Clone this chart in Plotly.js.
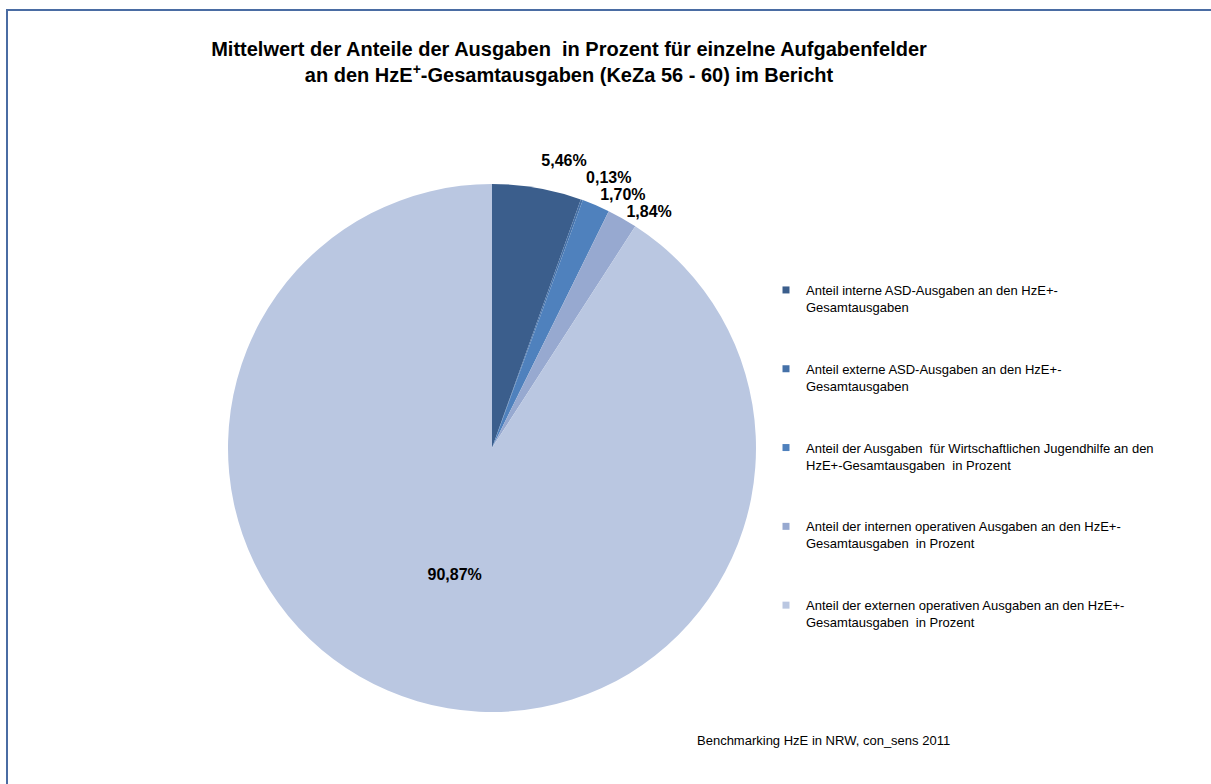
<!DOCTYPE html>
<html>
<head>
<meta charset="utf-8">
<script src="https://cdn.plot.ly/plotly-3.0.1.min.js"></script>
<style>
  html, body { margin: 0; padding: 0; background: #fff; overflow: hidden; }
  #frame { position: absolute; left: 6px; top: 9px; width: 1300px; height: 900px; border: 2px solid #4A6CA3; box-sizing: border-box; }
  #chart { position: absolute; left: 0; top: 0; width: 1211px; height: 784px; }
  #chart path.textline { display: none !important; }
</style>
</head>
<body>
<div id="frame"></div>
<div id="chart"></div>
<script>
const categories = [
  "Anteil interne ASD-Ausgaben an den HzE+-<br>Gesamtausgaben",
  "Anteil externe ASD-Ausgaben an den HzE+-<br>Gesamtausgaben",
  "Anteil der Ausgaben  für Wirtschaftlichen Jugendhilfe an den<br>HzE+-Gesamtausgaben  in Prozent",
  "Anteil der internen operativen Ausgaben an den HzE+-<br>Gesamtausgaben  in Prozent",
  "Anteil der externen operativen Ausgaben an den HzE+-<br>Gesamtausgaben  in Prozent"
];
const values = [5.46, 0.13, 1.70, 1.84, 90.87];
const colors = ["#3B5E8C", "#4571A8", "#4F81BD", "#97A9D0", "#BAC7E1"];

const fontFam = "Liberation Sans, Arial, sans-serif";
const labelText = values.map(v => v.toFixed(2).replace('.', ',') + '%');

const pie = {
  type: 'pie',
  values: values,
  labels: categories,
  text: labelText,
  textinfo: 'text',
  textposition: ['outside', 'outside', 'outside', 'outside', 'inside'],
  insidetextorientation: 'horizontal',
  textfont: { family: fontFam, size: 16, color: '#000', weight: 'bold' },
  outsidetextfont: { family: fontFam, size: 16, color: '#000', weight: 'bold' },
  insidetextfont: { family: fontFam, size: 16, color: '#000', weight: 'bold' },
  sort: false,
  direction: 'clockwise',
  rotation: 0,
  marker: { colors: colors, line: { width: 0 } },
  showlegend: false,
  hoverinfo: 'skip',
  domain: { x: [(492 - 264) / 1211, (492 + 264) / 1211], y: [(336 - 264) / 784, (336 + 264) / 784] }
};

const legendTraces = categories.map((c, i) => ({
  type: 'scatter',
  mode: 'markers',
  x: [null], y: [null],
  name: c,
  legendgroup: 'g' + i,
  marker: { symbol: 'square', size: 7, color: colors[i] },
  showlegend: true,
  hoverinfo: 'skip'
}));

const layout = {
  width: 1211,
  height: 784,
  margin: { l: 0, r: 0, t: 0, b: 0 },
  paper_bgcolor: 'rgba(0,0,0,0)',
  plot_bgcolor: 'rgba(0,0,0,0)',
  font: { family: fontFam, color: '#000' },
  title: {
    text: '<b>Mittelwert der Anteile der Ausgaben  in Prozent für einzelne Aufgabenfelder<br>an den HzE<sup>+</sup>-Gesamtausgaben (KeZa 56 - 60) im Bericht</b>',
    font: { family: fontFam, size: 20, color: '#000' },
    x: 569 / 1211, xanchor: 'center', xref: 'paper',
    y: 1 - 56 / 784, yanchor: 'top', yref: 'container'
  },
  xaxis: { visible: false, domain: [0.99, 1] },
  yaxis: { visible: false, domain: [0.99, 1] },
  showlegend: true,
  legend: {
    x: 766 / 1211, xanchor: 'left',
    y: 1 - 275 / 784, yanchor: 'top',
    font: { family: fontFam, size: 13, color: '#000' },
    tracegroupgap: 42,
    valign: 'top',
    itemwidth: 30,
    bgcolor: 'rgba(0,0,0,0)'
  },
  annotations: [{
    text: 'Benchmarking HzE in NRW, con_sens 2011',
    xref: 'paper', yref: 'paper',
    x: 824 / 1211, y: 1 - 740 / 784,
    xanchor: 'center', yanchor: 'middle',
    showarrow: false,
    font: { family: fontFam, size: 13, color: '#000' }
  }]
};

Plotly.newPlot('chart', [pie].concat(legendTraces), layout, { displayModeBar: false, staticPlot: true });
</script>
</body>
</html>
